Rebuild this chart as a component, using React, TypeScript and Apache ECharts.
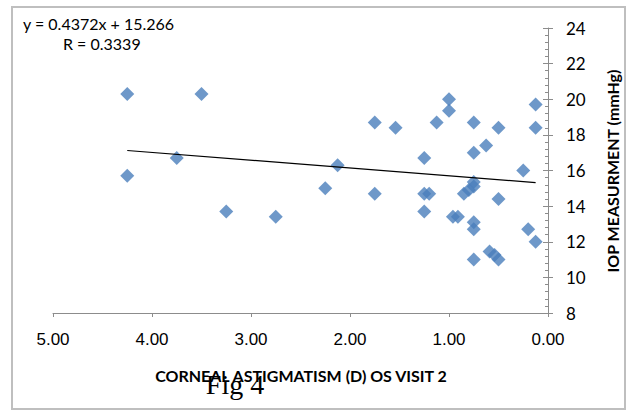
import React, { useEffect, useRef } from "react";
import * as echarts from "echarts";

const astigmatism = [
  4.25, 3.5, 3.75, 4.25, 3.25, 2.75, 2.25, 2.125, 1.75, 1.54, 1.75, 1.25, 1.25, 1.2, 1.25,
  1.125, 1.0, 1.0, 0.75, 0.75, 0.625, 0.5, 0.125, 0.125, 0.25, 0.75, 0.75, 0.8, 0.85,
  0.5, 0.96, 0.91, 0.75, 0.75, 0.2, 0.125, 0.59, 0.54, 0.5, 0.75,
];
const iop = [
  20.3, 20.3, 16.7, 15.7, 13.7, 13.4, 15.0, 16.3, 18.7, 18.4, 14.7, 16.7, 14.7, 14.7, 13.7,
  18.7, 20.0, 19.35, 18.7, 17.0, 17.4, 18.4, 19.7, 18.4, 16.0, 15.35, 15.1, 14.9, 14.7,
  14.4, 13.4, 13.4, 13.1, 12.7, 12.7, 12.0, 11.45, 11.25, 11.0, 11.0,
];
const trendSlope = 0.4372;
const trendIntercept = 15.266;
const equationText = "y = 0.4372x + 15.266";
const rText = "R = 0.3339";
const xTitle = "CORNEAL ASTIGMATISM (D) OS VISIT 2";
const yTitle = "IOP MEASURMENT (mmHg)";
const caption = "Fig 4";

export default function App() {
  const ref = useRef<HTMLDivElement>(null);
  useEffect(() => {
    if (!ref.current) return;
    const chart = echarts.init(ref.current, null, { renderer: "svg" });
    const pts = astigmatism.map((x, i) => [x, iop[i]]);
    const xMin = Math.min(...astigmatism);
    const xMax = Math.max(...astigmatism);
    const trend = [
      [xMax, trendSlope * xMax + trendIntercept],
      [xMin, trendSlope * xMin + trendIntercept],
    ];
    const axisColor = "#8c8c8c";
    chart.setOption({
      animation: false,
      backgroundColor: "#ffffff",
      grid: { left: 53, right: 86, top: 28, bottom: 98 },
      xAxis: {
        type: "value",
        inverse: true,
        min: 0,
        max: 5,
        interval: 1,
        splitLine: { show: false },
        axisLine: { show: true, lineStyle: { color: axisColor, width: 1 } },
        axisTick: { show: true, inside: false, length: 4, lineStyle: { color: axisColor } },
        axisLabel: {
          formatter: (v: number) => v.toFixed(2),
          color: "#000",
          fontFamily: "Liberation Sans",
          fontSize: 17,
          margin: 18,
        },
      },
      yAxis: [
        {
          type: "value",
          position: "right",
          min: 8,
          max: 24,
          interval: 2,
          splitLine: { show: false },
          axisLine: { show: true, onZero: false, lineStyle: { color: axisColor, width: 1 } },
          axisTick: { show: true, inside: false, length: 5, lineStyle: { color: axisColor } },
          axisLabel: { color: "#000", fontFamily: "Lato", fontSize: 17, margin: 18 },
        },
        {
          type: "value",
          position: "right",
          min: 8,
          max: 24,
          interval: 2,
          splitLine: { show: false },
          axisLine: { show: false },
          axisTick: { show: true, inside: true, length: 5, lineStyle: { color: axisColor } },
          minorTick: { show: true, splitNumber: 5, length: 3, lineStyle: { color: axisColor } },
          axisLabel: { show: false },
        },
      ],
      series: [
        {
          type: "scatter",
          data: pts,
          symbol: "diamond",
          symbolSize: 14,
          itemStyle: { color: "#4a7ebb" },
          z: 3,
        },
        {
          type: "line",
          data: trend,
          symbol: "none",
          lineStyle: { color: "#000", width: 1.2 },
          z: 4,
        },
      ],
      graphic: [
        {
          type: "rect",
          shape: { x: 12, y: 7, width: 613, height: 402 },
          style: { fill: "none", stroke: "#bfbfbf", lineWidth: 2 },
          z: -10,
        },
        {
          type: "text",
          x: 23,
          y: 23,
          style: { text: equationText, font: "16px Lato", fill: "#000", textVerticalAlign: "middle" },
        },
        {
          type: "text",
          x: 63,
          y: 43,
          style: { text: rText, font: "16px Lato", fill: "#000", textVerticalAlign: "middle" },
        },
        {
          type: "text",
          x: 301,
          y: 375,
          style: {
            text: xTitle,
            font: "bold 16px Lato",
            fill: "#000",
            textAlign: "center",
            textVerticalAlign: "middle",
          },
        },
        {
          type: "text",
          x: 612,
          y: 171,
          rotation: Math.PI / 2,
          style: {
            text: yTitle,
            font: "bold 16px Lato",
            fill: "#000",
            textAlign: "center",
            textVerticalAlign: "middle",
          },
        },
        {
          type: "text",
          x: 235,
          y: 384,
          style: {
            text: caption,
            font: "28px 'Liberation Serif'",
            fill: "#000",
            textAlign: "center",
            textVerticalAlign: "middle",
          },
          z: 10,
        },
      ],
    });
    return () => chart.dispose();
  }, []);
  return (
    <div
      ref={ref}
      style={{ position: "fixed", left: 0, top: 0, width: 634, height: 411 }}
    />
  );
}
